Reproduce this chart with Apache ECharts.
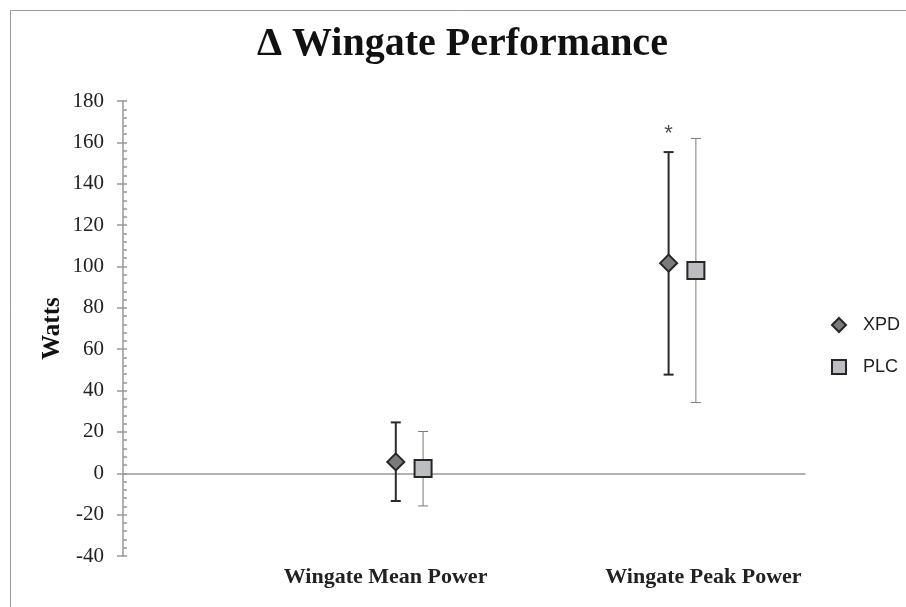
<!DOCTYPE html>
<html>
<head>
<meta charset="utf-8">
<title>Wingate Performance</title>
<script src="https://cdn.jsdelivr.net/npm/echarts@6/dist/echarts.min.js"></script>
<style>
    html, body { margin: 0; padding: 0; background: #fff; }
    #wingateChart { width: 906px; height: 607px; }
</style>
</head>
<body>
<div id="wingateChart"></div>
<script>
// category labels and where they sit along the (hidden) x scale
const categories = ['Wingate Mean Power', 'Wingate Peak Power'];
const categoryPos = [3.85, 8.51];

// XPD group
const xpdX = [4, 8];
const xpdMean = [5.5, 101.6];
const xpdLow = [-13.4, 47.7];
const xpdHigh = [24.6, 155.3];

// PLC group
const plcX = [4.4, 8.4];
const plcMean = [2.3, 98.1];
const plcLow = [-15.8, 34.2];
const plcHigh = [20.2, 161.9];

// significance marker
const sigX = [8];
const sigY = [164];

const yTicks = {min: -40, max: 180, interval: 20};

let wingateChart = echarts.init(document.getElementById('wingateChart'));

function errorBarSeries(name, xs, lows, highs, color, width, z) {
    return {
        name: name + ' SD',
        type: 'custom',
        xAxisIndex: 0,
        z: z,
        silent: true,
        data: xs.map((x, i) => [x, lows[i], highs[i]]),
        renderItem: function (params, api) {
            let lo = api.coord([api.value(0), api.value(1)]);
            let hi = api.coord([api.value(0), api.value(2)]);
            let cap = 5;
            let style = {stroke: color, lineWidth: width};
            return {
                type: 'group',
                children: [
                    {type: 'line', shape: {x1: lo[0], y1: lo[1], x2: hi[0], y2: hi[1]}, style: style},
                    {type: 'line', shape: {x1: lo[0] - cap, y1: lo[1], x2: lo[0] + cap, y2: lo[1]}, style: style},
                    {type: 'line', shape: {x1: hi[0] - cap, y1: hi[1], x2: hi[0] + cap, y2: hi[1]}, style: style}
                ]
            };
        }
    };
}

let serif = 'Liberation Serif, Times New Roman, serif';
let sans = 'Liberation Sans, Arial, sans-serif';

let option = {
    animation: false,
    backgroundColor: '#fff',
    title: {
        text: '\u0394 Wingate Performance',
        left: 257,
        top: 25,
        padding: 0,
        textStyle: {fontFamily: serif, fontSize: 40, fontWeight: 'bold', color: '#111'}
    },
    legend: {
        orient: 'vertical',
        left: 826,
        top: 311,
        itemWidth: 14,
        itemHeight: 14,
        itemGap: 24,
        data: ['XPD', 'PLC'],
        textStyle: {fontFamily: sans, fontSize: 18, color: '#222', lineHeight: 14, padding: [0, 0, 0, 12]}
    },
    graphic: [
        {
            type: 'rect',
            silent: true,
            z: -10,
            shape: {x: 10.5, y: 10.5, width: 1000, height: 1000},
            style: {fill: null, stroke: '#9a9a9a', lineWidth: 1}
        }
    ],
    grid: {left: 123, right: 101, top: 101, bottom: 51},
    xAxis: [
        {
            type: 'value',
            min: 0,
            max: 10,
            splitLine: {show: false},
            axisLine: {onZero: true, lineStyle: {color: '#999', width: 1.5}},
            axisTick: {show: false},
            axisLabel: {show: false}
        },
        {
            type: 'value',
            min: 0,
            max: 10,
            position: 'bottom',
            splitLine: {show: false},
            axisLine: {show: false, onZero: false},
            axisTick: {show: false},
            axisLabel: {
                customValues: categoryPos,
                margin: 10,
                fontFamily: serif,
                fontSize: 22,
                fontWeight: 'bold',
                color: '#222',
                formatter: function (v) {
                    let idx = categoryPos.indexOf(v);
                    return idx >= 0 ? categories[idx] : '';
                }
            }
        }
    ],
    yAxis: [
        {
            type: 'value',
            min: yTicks.min,
            max: yTicks.max,
            interval: yTicks.interval,
            name: 'Watts',
            nameLocation: 'middle',
            nameRotate: 90,
            nameGap: 58,
            nameMoveOverlap: false,
            nameTextStyle: {fontFamily: serif, fontSize: 25, fontWeight: 'bold', color: '#111'},
            splitLine: {show: false},
            axisLine: {show: true, onZero: false, lineStyle: {color: '#999', width: 1.5}},
            axisTick: {show: true, length: 6, lineStyle: {color: '#999', width: 1.5}},
            axisLabel: {fontFamily: serif, fontSize: 21, color: '#222', margin: 19}
        },
        {
            type: 'value',
            min: yTicks.min,
            max: yTicks.max,
            interval: yTicks.interval,
            position: 'left',
            splitLine: {show: false},
            axisLine: {show: false, onZero: false},
            axisTick: {show: true, inside: true, length: 4, lineStyle: {color: '#999', width: 1.5}},
            minorTick: {show: true, splitNumber: 5, length: 4, lineStyle: {color: '#999', width: 1.5}},
            axisLabel: {show: false}
        }
    ],
    series: [
        errorBarSeries('PLC', plcX, plcLow, plcHigh, '#7a7a7a', 1, 2),
        errorBarSeries('XPD', xpdX, xpdLow, xpdHigh, '#2a2a2a', 2, 3),
        {
            name: 'XPD',
            type: 'scatter',
            z: 5,
            symbol: 'diamond',
            symbolSize: 17,
            itemStyle: {color: '#7b7b7d', borderColor: '#262626', borderWidth: 2, opacity: 1},
            data: xpdX.map((x, i) => [x, xpdMean[i]])
        },
        {
            name: 'PLC',
            type: 'scatter',
            z: 5,
            symbol: 'rect',
            symbolSize: 17,
            itemStyle: {color: '#bcbdc1', borderColor: '#262626', borderWidth: 2, opacity: 1},
            data: plcX.map((x, i) => [x, plcMean[i]])
        },
        {
            name: 'sig',
            type: 'scatter',
            symbol: 'circle',
            symbolSize: 0,
            silent: true,
            z: 6,
            data: sigX.map((x, i) => [x, sigY[i]]),
            label: {
                show: true,
                position: 'inside',
                formatter: '*',
                fontFamily: sans,
                fontSize: 22,
                color: '#222'
            }
        }
    ]
};

wingateChart.setOption(option);

setTimeout(() => {
    window.onresize = function () {
        wingateChart.resize();
    }
}, 200);
</script>
</body>
</html>
